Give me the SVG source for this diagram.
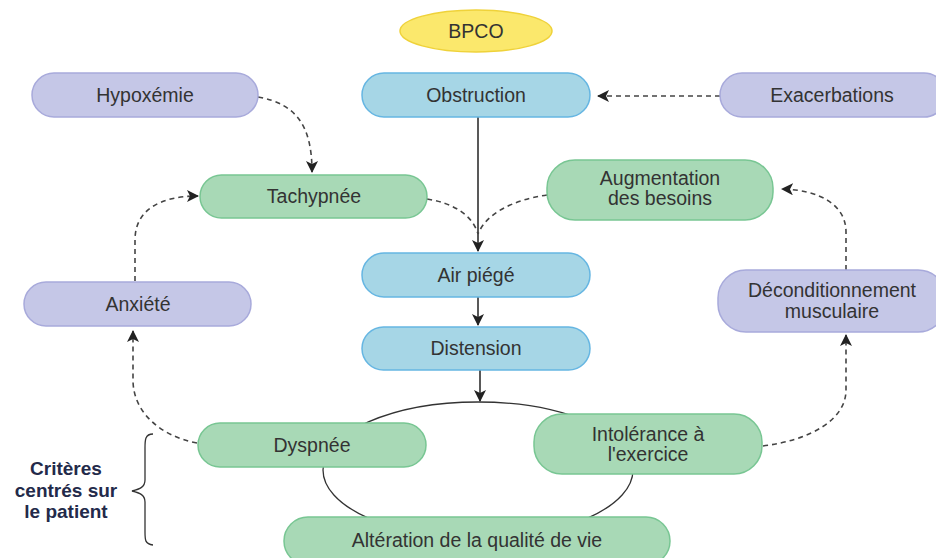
<svg xmlns="http://www.w3.org/2000/svg" width="936" height="558" viewBox="0 0 936 558">
<defs>
<style>
.t{font-family:"Liberation Sans",Arial,sans-serif;font-size:19.5px;fill:#333;text-anchor:middle}
.c{font-family:"Liberation Sans",Arial,sans-serif;font-size:19px;font-weight:bold;fill:#232a4a;text-anchor:middle}
.blue{fill:#a6d6e6;stroke:#66b6e2;stroke-width:1.5}
.purple{fill:#c5c7e7;stroke:#a8aadb;stroke-width:1.5}
.green{fill:#a8d9b6;stroke:#78c693;stroke-width:1.5}
.yellow{fill:#fbe86c;stroke:#efd23a;stroke-width:1.5}
.solid{fill:none;stroke:#222;stroke-width:1.5}
.dash{fill:none;stroke:#444;stroke-width:1.6;stroke-dasharray:5 4}
.arc{fill:none;stroke:#333;stroke-width:1.3}
</style>
<marker id="ah" viewBox="0 0 12 12" refX="11" refY="6" markerWidth="12" markerHeight="12" markerUnits="userSpaceOnUse" orient="auto">
<path d="M0,0 L12,6 L0,12 L3,6 Z" fill="#222"/>
</marker>
</defs>

<g id="connectors">
<ellipse class="arc" cx="478" cy="470" rx="155" ry="68"/>
<path class="solid" d="M478,117 L478,251" marker-end="url(#ah)"/>
<path class="solid" d="M478,297 L478,325" marker-end="url(#ah)"/>
<path class="solid" d="M480,370 L480,401" marker-end="url(#ah)"/>
<path class="dash" d="M720,96 L598,96" marker-end="url(#ah)"/>
<path class="dash" d="M258,97 C298,104 312,128 312,172" marker-end="url(#ah)"/>
<path class="dash" d="M427,199 C452,203 472,214 478,234"/>
<path class="dash" d="M547,195 C512,200 486,214 478,234"/>
<path class="dash" d="M135,281 L135,240 C135,210 160,196 198,196" marker-end="url(#ah)"/>
<path class="dash" d="M197,443 C160,436 133,412 133,380 L133,331" marker-end="url(#ah)"/>
<path class="dash" d="M763,446 C810,440 846,420 846,390 L846,335" marker-end="url(#ah)"/>
<path class="dash" d="M846,270 L846,232 C846,205 820,190 782,189" marker-end="url(#ah)"/>
<path class="arc" d="M153,434 C145,434 145,440 145,448 L145,480 C145,487 140,489 132,491 C140,493 145,495 145,502 L145,532 C145,540 145,544 153,545"/>
</g>

<g id="bpco"><ellipse class="yellow" cx="476" cy="31" rx="76" ry="21"/><text class="t" x="476" y="38">BPCO</text></g>
<g id="hypoxemie"><rect class="purple" x="32" y="73" width="226" height="44" rx="22"/><text class="t" x="145" y="102">Hypoxémie</text></g>
<g id="obstruction"><rect class="blue" x="362" y="73" width="228" height="44" rx="22"/><text class="t" x="476" y="102">Obstruction</text></g>
<g id="exacerbations"><rect class="purple" x="720" y="73" width="226" height="44" rx="22"/><text class="t" x="832" y="102">Exacerbations</text></g>
<g id="tachypnee"><rect class="green" x="200" y="175" width="227" height="43" rx="21.5"/><text class="t" x="314" y="203">Tachypnée</text></g>
<g id="augmentation"><rect class="green" x="547" y="160" width="226" height="60" rx="28"/><text class="t" x="660" y="185">Augmentation</text><text class="t" x="660" y="205">des besoins</text></g>
<g id="airpiege"><rect class="blue" x="362" y="253" width="228" height="44" rx="22"/><text class="t" x="476" y="282">Air piégé</text></g>
<g id="anxiete"><rect class="purple" x="24" y="282" width="227" height="44" rx="22"/><text class="t" x="138" y="311">Anxiété</text></g>
<g id="deconditionnement"><rect class="purple" x="718" y="270" width="228" height="62" rx="28"/><text class="t" x="832" y="297">Déconditionnement</text><text class="t" x="832" y="318">musculaire</text></g>
<g id="distension"><rect class="blue" x="362" y="327" width="228" height="43" rx="21.5"/><text class="t" x="476" y="355">Distension</text></g>
<g id="dyspnee"><rect class="green" x="198" y="423" width="228" height="44" rx="22"/><text class="t" x="312" y="452">Dyspnée</text></g>
<g id="intolerance"><rect class="green" x="534" y="414" width="228" height="60" rx="28"/><text class="t" x="648" y="441">Intolérance à</text><text class="t" x="648" y="461">l'exercice</text></g>
<g id="alteration"><rect class="green" x="284" y="517" width="386" height="48" rx="24"/><text class="t" x="477" y="547">Altération de la qualité de vie</text></g>
<g id="criteres"><text class="c" x="66" y="475">Critères</text><text class="c" x="66" y="497">centrés sur</text><text class="c" x="66" y="518">le patient</text></g>
</svg>
